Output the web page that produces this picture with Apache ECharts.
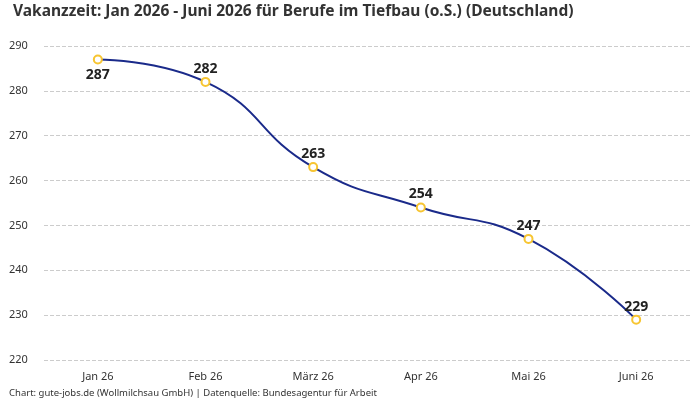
<!DOCTYPE html>
<html>
<head>
<meta charset="utf-8">
<script src="https://cdn.jsdelivr.net/npm/echarts@6/dist/echarts.min.js"></script>
<style>
    html, body { margin: 0; padding: 0; background: #fff; }
    #chart { width: 700px; height: 400px; }
</style>
</head>
<body>
<div id="chart"></div>
<script>
// Monate und Vakanzzeit in Tagen
var months = ['Jan 26', 'Feb 26', 'März 26', 'Apr 26', 'Mai 26', 'Juni 26'];
var vacancyDays = [287, 282, 263, 254, 247, 229];
var labelPositions = ['bottom', 'top', 'top', 'top', 'top', 'top'];

var fontName = '"Noto Sans", sans-serif';

var points = vacancyDays.map(function (v, i) {
    var pos = labelPositions[i];
    return { value: v, label: { position: pos, distance: pos === 'bottom' ? 4 : 1 } };
});

var chart = echarts.init(document.getElementById('chart'));
chart.setOption({
    animation: false,
    textStyle: { fontFamily: fontName },
    title: {
        text: 'Vakanzzeit: Jan 2026 - Juni 2026 für Berufe im Tiefbau (o.S.) (Deutschland)',
        left: 8,
        top: -1,
        textStyle: { fontSize: 15.5, fontWeight: 'bold', color: '#333', fontFamily: fontName }
    },
    graphic: [{
        type: 'text',
        left: 9,
        top: 388,
        style: {
            text: 'Chart: gute-jobs.de (Wollmilchsau GmbH) | Datenquelle: Bundesagentur für Arbeit',
            fontSize: 9.5,
            fill: '#333',
            fontFamily: fontName
        }
    }],
    grid: { left: 44, right: 10, top: 46, bottom: 40 },
    xAxis: {
        type: 'category',
        data: months,
        axisLine: { show: false },
        axisTick: { show: false },
        axisLabel: { color: '#333', fontSize: 11, margin: 11 }
    },
    yAxis: {
        type: 'value',
        min: 220,
        max: 290,
        interval: 10,
        axisLine: { show: false },
        axisTick: { show: false },
        axisLabel: { color: '#333', fontSize: 11, align: 'left', margin: 35 },
        splitLine: { lineStyle: { type: 'dashed', color: '#ccc' } }
    },
    series: [{
        type: 'line',
        data: points,
        smooth: true,
        symbol: 'emptyCircle',
        symbolSize: 8,
        lineStyle: { color: '#1a2a8a', width: 2 },
        itemStyle: { color: '#f7c531', borderColor: '#f7c531', borderWidth: 2 },
        label: {
            show: true,
            fontSize: 14,
            fontWeight: 'bold',
            color: '#222'
        }
    }]
});
</script>
</body>
</html>
